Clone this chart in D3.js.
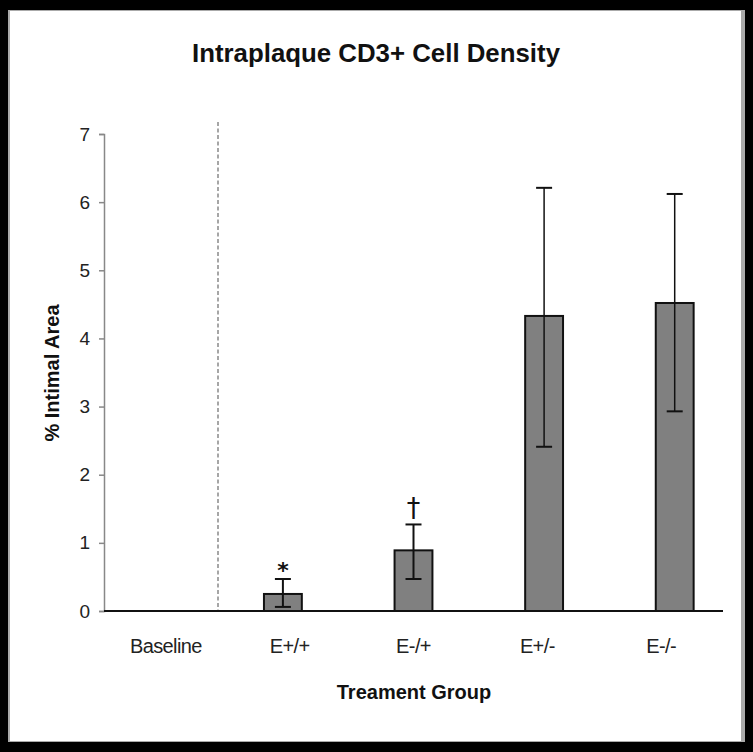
<!DOCTYPE html>
<html><head><meta charset="utf-8">
<script src="https://cdn.jsdelivr.net/npm/d3@7"></script>
<style>html,body{margin:0;padding:0;background:#fff}</style>
</head><body>
<script>
const categories = ["Baseline","E+/+","E-/+","E+/-","E-/-"];
const means =      [null, 0.25, 0.89, 4.33, 4.52];
const errLow =     [null, 0.06, 0.47, 2.41, 2.93];
const errHigh =    [null, 0.47, 1.27, 6.21, 6.12];
const marks =      ["", "*", "†", "", ""];
const yTicks = [0,1,2,3,4,5,6,7];
const title = "Intraplaque CD3+ Cell Density";
const xTitle = "Treament Group";
const yTitle = "% Intimal Area";

(function(){
const W = 753, H = 752;
const svg = d3.select("body").append("svg").attr("width", W).attr("height", H);

// frame
svg.append("rect").attr("x",0).attr("y",0).attr("width",W).attr("height",H).attr("fill","#000");
svg.append("rect").attr("x",8).attr("y",10).attr("width",737).attr("height",732).attr("fill","#aaa");
svg.append("rect").attr("x",10).attr("y",11).attr("width",731).attr("height",730).attr("fill","#fff");

const font = "'Liberation Sans', Arial, sans-serif";

const pl = 104, pr = 723, pt = 134, pb = 611;
const y = d3.scaleLinear().domain([0,7]).range([pb, pt]);
const xLab = d3.scaleBand().domain(categories).range([pl, pr]);
const xBar = d3.scaleBand().domain(categories).range([87, 740]).paddingInner(0.71).paddingOuter(0.355);

// title
svg.append("text").attr("x",376).attr("y",62).attr("text-anchor","middle")
  .attr("font-family",font).attr("font-weight","bold").attr("font-size",25)
  .attr("textLength",368).attr("lengthAdjust","spacingAndGlyphs")
  .attr("fill","#111").text(title);

// y axis
const yAxis = d3.axisLeft(y).tickValues(yTicks).tickSize(5).tickPadding(9).tickFormat(d3.format("d"));
const ga = svg.append("g").attr("transform",`translate(${pl},0)`).call(yAxis);
ga.select(".domain").attr("stroke","#888").attr("stroke-width",1.5);
ga.selectAll(".tick line").attr("stroke","#888").attr("stroke-width",1.5);
ga.selectAll(".tick text").attr("font-family",font).attr("font-size",19).attr("fill","#222");

// dashed separator
svg.append("line").attr("x1",218).attr("x2",218).attr("y1",122).attr("y2",pb)
  .attr("stroke","#777").attr("stroke-width",1.3).attr("stroke-dasharray","4,2.5");

// bars
const data = categories.map((c,i)=>({c, m:means[i], lo:errLow[i], hi:errHigh[i], mark:marks[i]})).filter(d=>d.m!==null);
const bw = xBar.bandwidth();
svg.selectAll("rect.bar").data(data).enter().append("rect").attr("class","bar")
  .attr("x",d=>xBar(d.c)).attr("width",bw)
  .attr("y",d=>y(d.m)).attr("height",d=>y(0)-y(d.m))
  .attr("fill","#808080").attr("stroke","#111").attr("stroke-width",2);

// error bars
const eg = svg.selectAll("g.err").data(data).enter().append("g").attr("class","err");
eg.append("line").attr("x1",d=>xBar(d.c)+bw/2).attr("x2",d=>xBar(d.c)+bw/2)
  .attr("y1",d=>y(d.lo)).attr("y2",d=>y(d.hi)).attr("stroke","#111").attr("stroke-width",d=>d.m>2?1.5:2);
eg.append("line").attr("x1",d=>xBar(d.c)+bw/2-8).attr("x2",d=>xBar(d.c)+bw/2+8)
  .attr("y1",d=>y(d.hi)).attr("y2",d=>y(d.hi)).attr("stroke","#111").attr("stroke-width",2);
eg.append("line").attr("x1",d=>xBar(d.c)+bw/2-8).attr("x2",d=>xBar(d.c)+bw/2+8)
  .attr("y1",d=>y(d.lo)).attr("y2",d=>y(d.lo)).attr("stroke","#111").attr("stroke-width",2);

// significance marks
svg.selectAll("text.mark").data(data.filter(d=>d.mark)).enter().append("text").attr("class","mark")
  .attr("x",d=>xBar(d.c)+bw/2).attr("y",d=>y(d.hi)-(d.mark==="*"?1:7))
  .attr("text-anchor","middle").attr("font-family","'DejaVu Sans', sans-serif")
  .attr("font-size",d=>d.mark==="*"?22:27).attr("font-weight",d=>d.mark==="*"?"bold":"normal").attr("fill","#111")
  .text(d=>d.mark);

// x axis line
svg.append("line").attr("x1",pl).attr("x2",pr).attr("y1",pb).attr("y2",pb)
  .attr("stroke","#111").attr("stroke-width",2);

// x labels
svg.selectAll("text.xl").data(categories).enter().append("text").attr("class","xl")
  .attr("x",d=>xLab(d)+xLab.bandwidth()/2).attr("y",653).attr("text-anchor","middle")
  .attr("font-family",font).attr("font-size",20).attr("fill","#222")
  .attr("letter-spacing",-0.6).text(d=>d);

// axis titles
svg.append("text").attr("x",414).attr("y",699).attr("text-anchor","middle")
  .attr("font-family",font).attr("font-weight","bold").attr("font-size",20).attr("fill","#111")
  .text(xTitle);
svg.append("text").attr("transform","translate(59,373) rotate(-90)").attr("text-anchor","middle")
  .attr("font-family",font).attr("font-weight","bold").attr("font-size",20).attr("fill","#111")
  .text(yTitle);
})();
</script>
</body></html>
